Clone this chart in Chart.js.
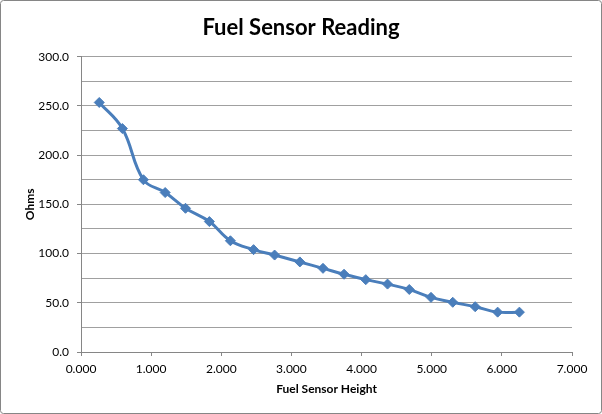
<!DOCTYPE html>
<html>
<head>
<meta charset="utf-8">
<script src="https://cdn.jsdelivr.net/npm/chart.js@4"></script>
<style>
  html, body { margin: 0; padding: 0; background: #fff; }
  #wrap { width: 602px; height: 414px; }
</style>
</head>
<body>
<div id="wrap"><canvas id="chart" width="602" height="414"></canvas></div>
<script>
// values
const heights = [0.26, 0.59, 0.89, 1.20, 1.49, 1.83, 2.13, 2.46, 2.76, 3.12,
                 3.45, 3.75, 4.06, 4.37, 4.68, 4.99, 5.30, 5.62, 5.94, 6.25];
const ohms = [253.5, 227.0, 175.0, 162.0, 146.0, 132.5, 113.0, 104.0, 98.5, 91.5,
              85.0, 79.0, 73.5, 69.0, 63.5, 55.5, 50.5, 46.0, 40.5, 40.5];
const xTickLabels = ['0.000', '1.000', '2.000', '3.000', '4.000', '5.000', '6.000', '7.000'];
const yTickLabels = ['0.0', '50.0', '100.0', '150.0', '200.0', '250.0', '300.0'];

const blue = '#4a7ebb';
const font = 'Lato, "Open Sans", sans-serif';

const points = heights.map((h, i) => ({ x: h, y: ohms[i] }));

// white background + thin grey frame like the spreadsheet chart
const frame = {
  id: 'frame',
  beforeDraw(chart) {
    const ctx = chart.ctx;
    ctx.save();
    ctx.fillStyle = '#fff';
    ctx.fillRect(0, 0, chart.width, chart.height);
    ctx.strokeStyle = '#868686';
    ctx.lineWidth = 1;
    ctx.beginPath();
    ctx.roundRect(0.5, 0.5, chart.width - 1, chart.height - 1, 3);
    ctx.stroke();
    ctx.restore();
  }
};

new Chart(document.getElementById('chart'), {
  type: 'scatter',
  data: {
    datasets: [{
      label: 'Ohms',
      data: points,
      showLine: true,
      borderColor: blue,
      borderWidth: 3,
      tension: 0.4,
      pointStyle: 'rectRot',
      pointRadius: 5,
      pointHoverRadius: 5,
      pointBackgroundColor: blue,
      pointBorderColor: blue,
      pointBorderWidth: 1,
    }]
  },
  options: {
    responsive: false,
    animation: false,
    layout: { padding: 0 },
    plugins: {
      legend: { display: false },
      tooltip: { enabled: false },
      title: {
        display: true,
        text: 'Fuel Sensor Reading',
        color: '#000',
        font: { family: font, size: 22, weight: 'bold' },
        padding: { top: 14.3, bottom: 16 },
      },
    },
    scales: {
      x: {
        type: 'linear',
        min: 0,
        max: 7,
        ticks: {
          stepSize: 1,
          padding: 6,
          maxRotation: 0,
          color: '#000',
          font: { family: font, size: 12 },
          callback: (v) => xTickLabels[Math.round(v)],
        },
        grid: {
          drawOnChartArea: false,
          tickLength: 4,
          color: '#868686',
        },
        border: { color: '#868686' },
        title: {
          display: true,
          text: 'Fuel Sensor Height',
          color: '#000',
          font: { family: font, size: 12, weight: 'bold' },
          padding: { top: 0, bottom: 17.8 },
        },
        afterFit: (s) => { s.height = 62; s.paddingRight = 30; },
      },
      y: {
        min: 0,
        max: 300,
        ticks: {
          stepSize: 25,
          padding: 8,
          color: '#000',
          font: { family: font, size: 12 },
          callback: (v) => (v % 50 === 0 ? yTickLabels[v / 50] : ''),
        },
        grid: {
          color: '#a0a0a0',
          tickLength: 4,
          tickColor: (c) => (c.tick && c.tick.value % 50 === 0 ? '#868686' : 'rgba(0,0,0,0)'),
        },
        border: { color: '#868686' },
        title: {
          display: true,
          text: 'Ohms',
          color: '#000',
          font: { family: font, size: 12, weight: 'bold' },
          padding: { top: 22.8, bottom: 0 },
        },
        afterFit: (s) => { s.width = 81; },
      },
    },
  },
  plugins: [frame],
});
</script>
</body>
</html>
